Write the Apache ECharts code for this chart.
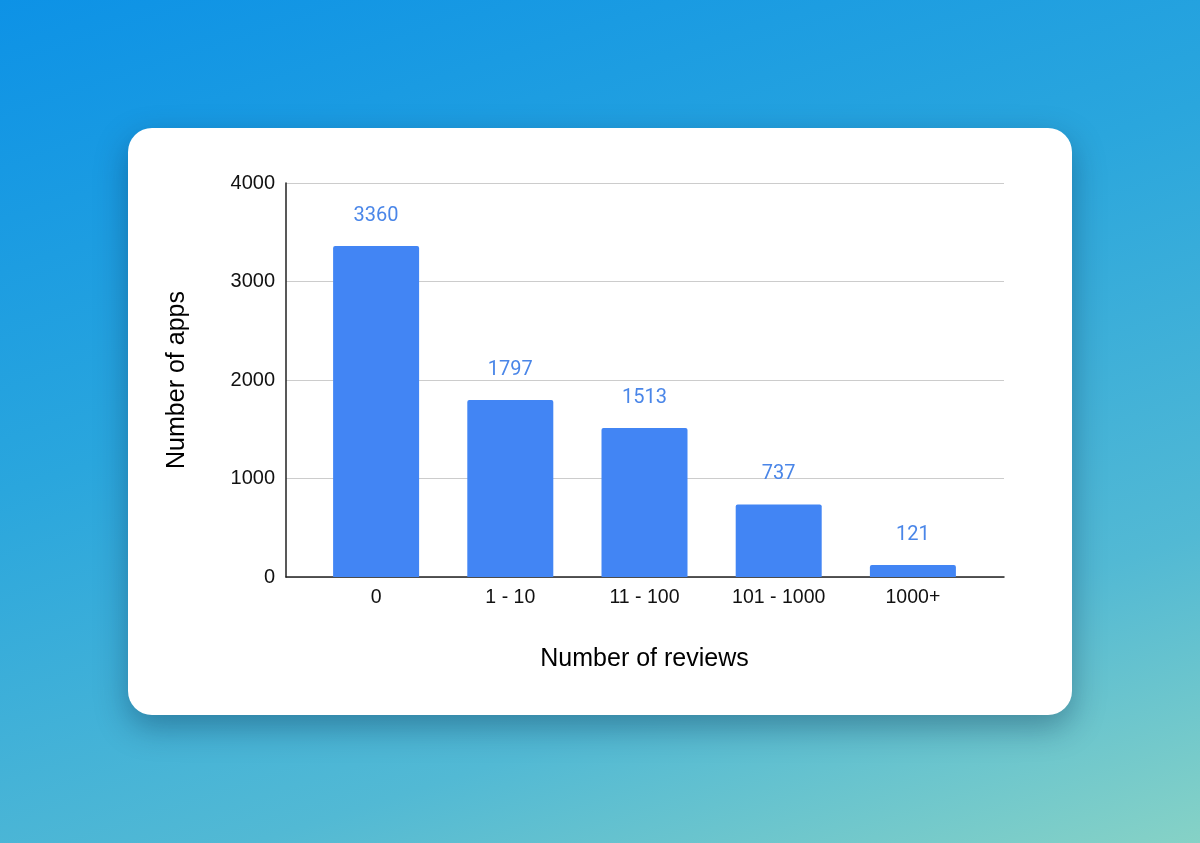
<!DOCTYPE html>
<html>
<head>
<meta charset="utf-8">
<script src="https://cdn.jsdelivr.net/npm/echarts@6/dist/echarts.min.js"></script>
<style>
  html, body { margin: 0; padding: 0; width: 1200px; height: 843px; overflow: hidden; }
  body { background: linear-gradient(162deg, #0d92e6 0%, #2aa6dd 40%, #52b9d4 75%, #86d2c6 100%); position: relative; }
  #card { position: absolute; left: 128px; top: 128px; width: 944px; height: 587px; background: #fff; border-radius: 24px; box-shadow: 0 12px 32px rgba(0,30,60,0.35); }
  #chart { position: absolute; left: 0; top: 0; width: 1200px; height: 843px; }
</style>
</head>
<body>
<div id="card"></div>
<div id="chart"></div>
<script>
const categories = ['0', '1 - 10', '11 - 100', '101 - 1000', '1000+'];
const appCounts = [3360, 1797, 1513, 737, 121];
const yTicks = { min: 0, max: 4000, interval: 1000 };
const xTitle = 'Number of reviews';
const yTitle = 'Number of apps';

const FONT = 'Liberation Sans, Arial, Helvetica, sans-serif';
const chart = echarts.init(document.getElementById('chart'), null, { renderer: 'canvas' });
chart.setOption({
  backgroundColor: 'transparent',
  animation: false,
  grid: [
    { left: 309, right: 220, top: 183, bottom: 266 },
    { left: 286, right: 196, top: 183, bottom: 266 }
  ],
  xAxis: [
    {
      gridIndex: 0, type: 'category', data: categories, boundaryGap: true,
      axisLine: { show: false }, axisTick: { show: false },
      axisLabel: { color: '#111', fontSize: 19.5, fontFamily: FONT, margin: 11 },
      name: xTitle, nameLocation: 'middle', nameGap: 70,
      nameTextStyle: { color: '#000', fontSize: 25, fontFamily: FONT }
    },
    {
      gridIndex: 1, type: 'value', min: 0, max: 1,
      axisLine: { show: true, lineStyle: { color: '#222', width: 1.5 } },
      axisTick: { show: false }, axisLabel: { show: false }, splitLine: { show: false }
    }
  ],
  yAxis: [
    { gridIndex: 0, type: 'value', min: yTicks.min, max: yTicks.max, interval: yTicks.interval, show: false, splitLine: { show: false } },
    {
      gridIndex: 1, type: 'value', min: yTicks.min, max: yTicks.max, interval: yTicks.interval,
      axisLine: { show: true, lineStyle: { color: '#222', width: 1.5 } },
      axisTick: { show: false },
      axisLabel: { color: '#111', fontSize: 20, fontFamily: FONT, margin: 11, formatter: v => String(v) },
      splitLine: { show: true, lineStyle: { color: '#cccccc', width: 1 } },
      name: yTitle, nameLocation: 'middle', nameGap: 96, nameRotate: 90,
      nameTextStyle: { color: '#000', fontSize: 25, fontFamily: FONT }
    }
  ],
  series: [{
    type: 'bar', xAxisIndex: 0, yAxisIndex: 0, data: appCounts, barWidth: 86, z: 3,
    itemStyle: { color: '#4285f4', borderRadius: [2, 2, 0, 0] },
    label: { show: true, position: 'top', distance: 20, color: '#4a86e8', fontSize: 20, fontFamily: 'Roboto, sans-serif' }
  }]
});
</script>
</body>
</html>
